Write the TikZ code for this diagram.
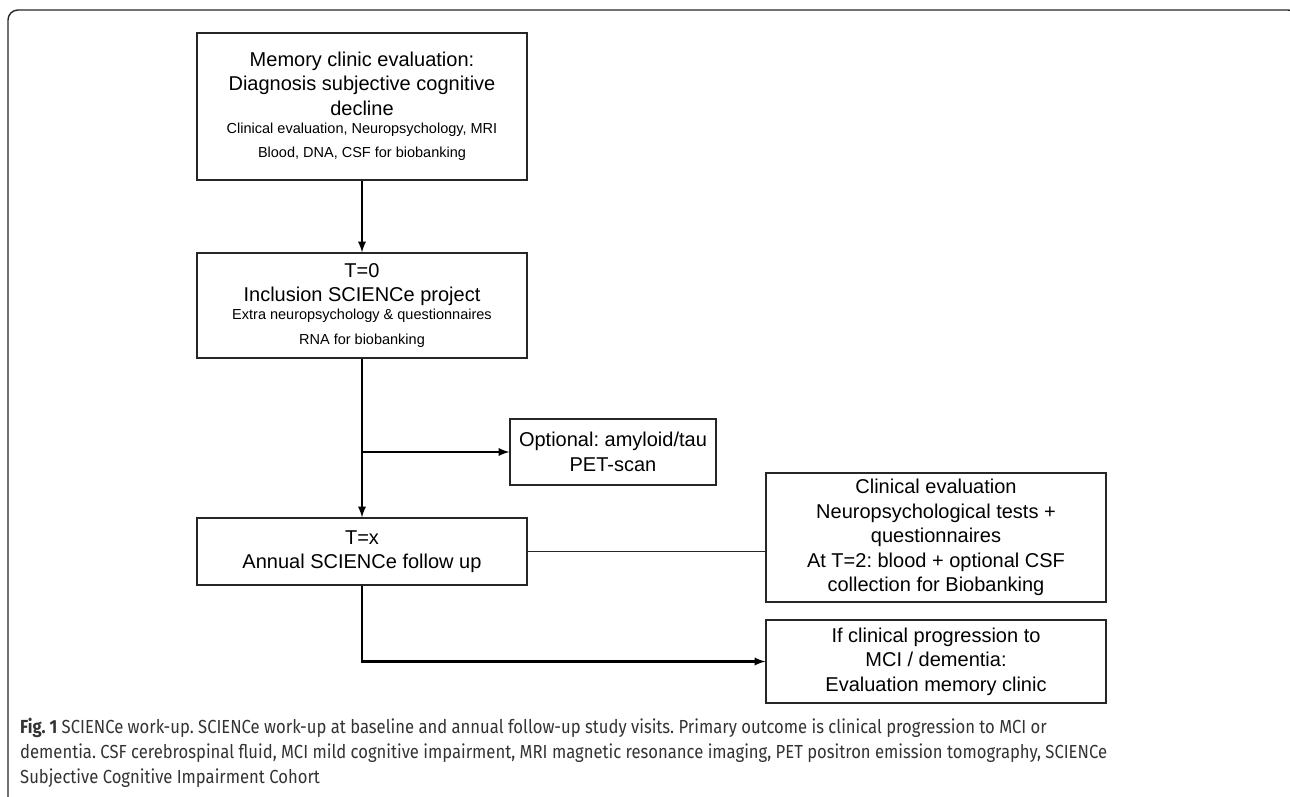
\documentclass[tikz,border=0pt]{standalone}
\usepackage{fontspec}
\setmainfont{Liberation Sans}
\newfontfamily\capfont[FakeStretch=0.88]{Fira Sans}
\newcommand\bigtxt{\fontsize{20}{24.5}\selectfont}
\newcommand\smalltxt{\fontsize{14.5}{18}\selectfont}

\begin{document}
\frenchspacing
\begin{tikzpicture}[x=1pt,y=-1pt,
    box/.style={draw=black!85, line width=1.2pt, align=flush center, inner sep=0pt, font=\bigtxt},
    flow/.style={line width=2.7pt, -latex}]
  \useasboundingbox (0,0) rectangle (1290,797);
  \draw[line width=1.4pt, black!85, rounded corners=10pt] (8,10) rectangle (1298,815); % frame

  % left column
  \node[box, minimum width=330pt, minimum height=147pt, text width=326pt] (memory) at (362,106.5)
    {Memory clinic evaluation:\\ Diagnosis subjective cognitive\\ decline\par
     \smalltxt Clinical evaluation, Neuropsychology, MRI\\ Blood, DNA, CSF for biobanking};
  \node[box, minimum width=330pt, minimum height=105pt, text width=326pt] (inclusion) at (362,305.5)
    {T=0\\ Inclusion SCIENCe project\par
     \smalltxt Extra neuropsychology \& questionnaires\\ RNA for biobanking};
  \node[box, minimum width=330pt, minimum height=67pt, text width=326pt] (followup) at (362,551.5)
    {T=x\\ Annual SCIENCe follow up};

  % right side
  \node[box, minimum width=206pt, minimum height=66pt, text width=202pt] (pet) at (613,452)
    {Optional: amyloid/tau\\ PET-scan};
  \node[box, minimum width=340pt, minimum height=129pt, text width=336pt] (visit) at (936,537.5)
    {Clinical evaluation\\ Neuropsychological tests +\\ questionnaires\\ At T=2: blood + optional CSF\\ collection for Biobanking};
  \node[box, minimum width=340pt, minimum height=83pt, text width=336pt] (progress) at (936,661.5)
    {If clinical progression to\\ MCI / dementia:\\ Evaluation memory clinic};

  % connectors
  \coordinate (split) at (inclusion.south |- pet.west);
  \draw[flow] (memory) -- (inclusion);
  \draw[flow] (inclusion) -- (followup);
  \draw[flow] (split) -- (pet);
  \draw[line width=1.2pt, black!85] (followup.east) -- (followup.east -| visit.west);
  \draw[flow] (followup.south) |- (progress.west);

  % caption
  \node[anchor=north west, align=left, inner sep=0pt, text=black!80,
        font=\capfont\fontsize{18.9}{25}\selectfont] (caption) at (20,718)
    {\textbf{Fig. 1} SCIENCe work-up. SCIENCe work-up at baseline and annual follow-up study visits. Primary outcome is clinical progression to MCI or\\
     dementia. CSF cerebrospinal fluid, MCI mild cognitive impairment, MRI magnetic resonance imaging, PET positron emission tomography, SCIENCe\\
     Subjective Cognitive Impairment Cohort};
\end{tikzpicture}
\end{document}
